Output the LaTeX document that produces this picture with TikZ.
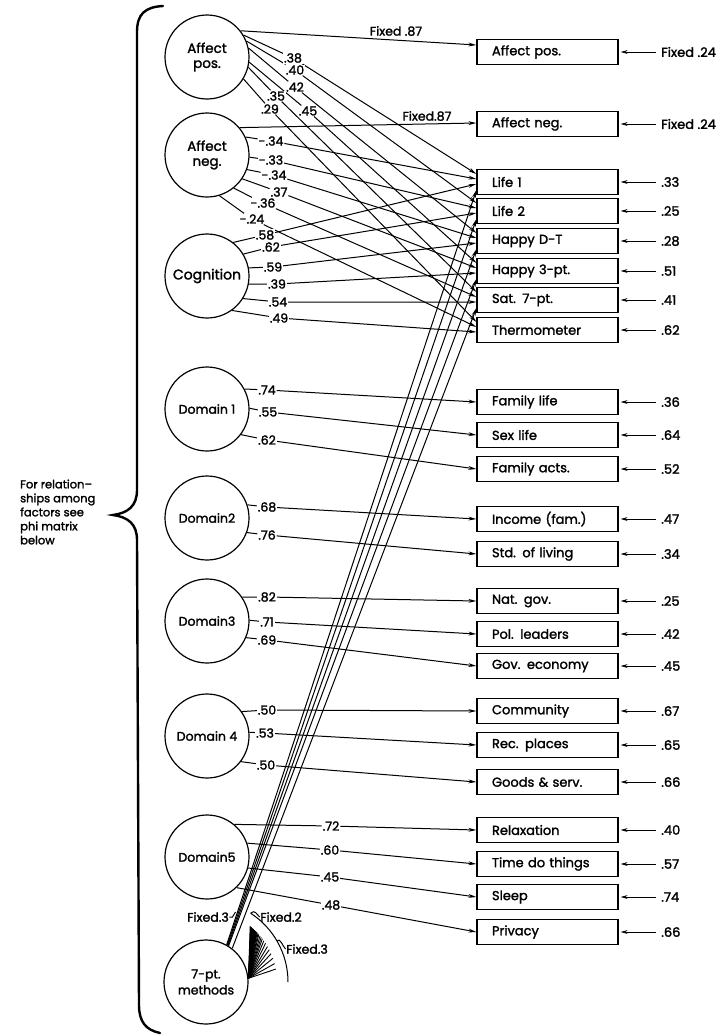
\documentclass[tikz,border=0pt]{standalone}
\usepackage{fontspec}
\setmainfont{Poppins}[FakeBold=1.7]
\usetikzlibrary{arrows.meta,calc}
\pgfdeclarelayer{paper}
\pgfdeclarelayer{wires}
\pgfsetlayers{paper,wires,main}
\tikzset{
  factor/.style={circle,draw,line width=1.2pt,minimum size=84pt,inner sep=0pt,align=center,font=\fontsize{13.5}{15}\selectfont},
  obs/.style={draw,line width=1.2pt,minimum height=25pt,text width=141pt,inner xsep=0pt,inner ysep=0pt,align=left,font=\fontsize{13}{14}\selectfont,execute at begin node={\hspace*{15pt}}},
  coef/.style={fill=white,inner sep=0.8pt,font=\fontsize{12.5}{12}\selectfont},
  errlab/.style={anchor=west,inner sep=0pt,font=\fontsize{13}{12}\selectfont},
  fixlab/.style={inner sep=0.5pt,font=\fontsize{12.5}{12}\selectfont},
  wire/.style={line width=1pt,-{Stealth[length=8pt,width=3.8pt]}},
  errw/.style={line width=1pt,-{Stealth[length=7pt,width=3.8pt]},shorten >=2pt,shorten <=5pt},
  bareline/.style={line width=1pt},
  fanline/.style={line width=0.9pt},
}
\begin{document}
\begin{tikzpicture}[x=1pt,y=-1pt]
\begin{pgfonlayer}{paper}
  \fill[white] (0,0) rectangle (720,1036);
\end{pgfonlayer}
\useasboundingbox (0,0) rectangle (720,1036);

% latent factors
\node[factor] (ap)  at (207,57)  {Affect\\pos.};
\node[factor] (an)  at (207,155) {Affect\\neg.};
\node[factor,font=\fontsize{14}{15}\selectfont] (cog) at (207,276) {Cognition};
\node[factor,font=\fontsize{12.5}{15}\selectfont] (d1)  at (207,409) {Domain 1};
\node[factor,font=\fontsize{12.5}{15}\selectfont] (d2)  at (207,518) {Domain2};
\node[factor,font=\fontsize{12.5}{15}\selectfont] (d3)  at (207,621) {Domain3};
\node[factor,font=\fontsize{12.5}{15}\selectfont] (d4)  at (207,736) {Domain 4};
\node[factor,font=\fontsize{12.5}{15}\selectfont] (d5)  at (207,857) {Domain5};
\node[factor,font=\fontsize{12.5}{16}\selectfont] (m7)  at (206,982) {7-pt.\\methods};

% measured variables with their residual arrows
\foreach \n/\y/\t/\e in {
  bap/52/Affect pos./Fixed .24, ban/124/Affect neg./Fixed .24,
  l1/182/Life 1/.33, l2/211/Life 2/.25, hdt/241/Happy D-T/.28,
  h3/271/Happy 3-pt./.51, s7/300/Sat. 7-pt./.41, th/330/Thermometer/.62,
  fl/402/Family life/.36, sl/435/Sex life/.64, fa/469/Family acts./.52,
  inc/519/Income (fam.)/.47, std/554/Std. of living/.34,
  ng/601/Nat. gov./.25, pl/634/Pol. leaders/.42, ge/666/Gov. economy/.45,
  com/711/Community/.67, rp/745/Rec. places/.65, gs/782/Goods \& serv./.66,
  rel/830/Relaxation/.40, tdt/864/Time do things/.57, slp/897/Sleep/.74,
  prv/932/Privacy/.66}{
  \node[obs] (\n) at (547.5,\y) {\t};
  \node[errlab] (e\n) at (661,\y) {\e};
  \draw[errw] (e\n.west) -- (\n.east);
}

% loadings
\node[fixlab] (f87a) at (396,31) {Fixed .87};
\node[fixlab] (f87b) at (427,116) {Fixed.87};

\node[coef] (c38) at (293,58)  {.38};
\node[coef] (c40) at (295,70)  {.40};
\node[coef] (c42) at (295,87)  {.42};
\node[coef] (c35) at (276,96)  {.35};
\node[coef] (c29) at (270,109) {.29};
\node[coef] (c45) at (308,111) {.45};

\node[coef] (n1) at (271,141) {-.34};
\node[coef] (n2) at (271,160) {-.33};
\node[coef] (n3) at (274,175) {-.34};
\node[coef] (n4) at (279,192) {.37};
\node[coef] (n5) at (263,203) {-.36};
\node[coef] (n6) at (252,219) {-.24};

\node[coef] (g1) at (265,235) {.58};
\node[coef] (g2) at (271,247) {.62};
\node[coef] (g3) at (273,267) {.59};
\node[coef] (g4) at (277,284) {.39};
\node[coef] (g5) at (278,302) {.54};
\node[coef] (g6) at (279,318) {.49};

\node[coef] (k74)  at (267,390) {.74};
\node[coef] (k55)  at (268,412) {.55};
\node[coef] (k62)  at (267,440) {.62};
\node[coef] (k68)  at (267,507) {.68};
\node[coef] (k76)  at (267,535) {.76};
\node[coef] (k82)  at (267,597) {.82};
\node[coef] (k71)  at (267,622) {.71};
\node[coef] (k69)  at (267,640) {.69};
\node[coef] (k50a) at (267,710) {.50};
\node[coef] (k53)  at (265,733) {.53};
\node[coef] (k50b) at (266,765) {.50};
\node[coef] (k72)  at (331,826) {.72};
\node[coef] (k60)  at (330,850) {.60};
\node[coef] (k45)  at (330,877) {.45};
\node[coef] (k48)  at (331,905) {.48};

\node[fixlab] (fx3l) at (208,917) {Fixed.3};
\node[fixlab] (fx2)  at (281,917) {Fixed.2};
\node[fixlab] (fx3r) at (307,949) {Fixed.3};

\coordinate (arcTop) at ($(m7.center)+(57:82pt)$);
\coordinate (arcMid) at ($(m7.center)+(30:82pt)$);

\begin{pgfonlayer}{wires}
  % affect factors to their single indicators
  \draw[wire] (ap.38) -- ($(bap.west)+(0,-7)$);
  \draw[wire] (an.40) -- ($(ban.west)+(0,-1)$);
  % positive affect
  \draw[wire] (ap.31)  -- (c38) -- ($(l1.west)+(0,-8)$);
  \draw[wire] (ap.22)  -- (c40) -- ($(l2.west)+(0,-8)$);
  \draw[wire] (ap.12)  -- (c42) -- ($(hdt.west)+(0,-8)$);
  \draw[wire] (ap.353) -- (c45) -- ($(h3.west)+(0,-8)$);
  \draw[wire] (ap.346) -- (c35) -- ($(s7.west)+(0,-8)$);
  \draw[wire] (ap.329) -- (c29) -- ($(th.west)+(0,-8)$);
  % negative affect
  \draw[wire] (an.25)  -- (n1) -- ($(l1.west)+(0,-3)$);
  \draw[wire] (an.357) -- (n2) -- ($(l2.west)+(0,-3)$);
  \draw[wire] (an.340) -- (n3) -- ($(hdt.west)+(0,-3)$);
  \draw[wire] (an.326) -- (n4) -- ($(h3.west)+(0,-3)$);
  \draw[wire] (an.309) -- (n5) -- ($(s7.west)+(0,-3)$);
  \draw[wire] (an.287) -- (n6) -- ($(th.west)+(0,-3)$);
  % cognition
  \draw[wire] (cog.52)  -- (g1) -- ($(l1.west)+(0,2)$);
  \draw[wire] (cog.31)  -- (g2) -- ($(l2.west)+(0,2)$);
  \draw[wire] (cog.11)  -- (g3) -- ($(hdt.west)+(0,2)$);
  \draw[wire] (cog.349) -- (g4) -- ($(h3.west)+(0,2)$);
  \draw[wire] (cog.328) -- (g5) -- ($(s7.west)+(0,2)$);
  \draw[wire] (cog.306) -- (g6) -- ($(th.west)+(0,2)$);
  % method factor to the global measures
  \draw[wire] (m7.61) -- ($(l1.west)+(0,8)$);
  \draw[wire] (m7.60) -- ($(l2.west)+(0,8)$);
  \draw[wire] (m7.59) -- ($(hdt.west)+(0,8)$);
  \draw[wire] (m7.58) -- ($(h3.west)+(0,8)$);
  \draw[wire] (m7.52) -- ($(s7.west)+(0,8)$);
  % domains
  \draw[wire] (d1.28)  -- (k74)  -- (fl.west);
  \draw[wire] (d1.1)   -- (k55)  -- (sl.west);
  \draw[wire] (d1.323) -- (k62)  -- (fa.west);
  \draw[wire] (d2.18)  -- (k68)  -- (inc.west);
  \draw[wire] (d2.340) -- (k76)  -- (std.west);
  \draw[wire] (d3.34)  -- (k82)  -- (ng.west);
  \draw[wire] (d3.1)   -- (k71)  -- (pl.west);
  \draw[wire] (d3.337) -- (k69)  -- (ge.west);
  \draw[wire] (d4.35)  -- (k50a) -- (com.west);
  \draw[wire] (d4.5)   -- (k53)  -- (rp.west);
  \draw[wire] (d4.323) -- (k50b) -- (gs.west);
  \draw[wire] (d5.50)  -- (k72)  -- (rel.west);
  \draw[wire] (d5.19)  -- (k60)  -- (tdt.west);
  \draw[wire] (d5.345) -- (k45)  -- (slp.west);
  \draw[wire] (d5.314) -- (k48)  -- (prv.west);
  % abbreviated fan of method loadings on the domain items
  \foreach \a in {51.5,51,50.5,50,49,48,47,46,45,44,43,42,40.5,39,37.5,35.5,33,30,27,23.5,19.5,15,10.5}
    \draw[fanline] (m7.5) -- ($(m7.center)+(\a:71pt)$);
  \fill (m7.5) -- ($(m7.center)+(51.5:71pt)$) -- ($(m7.center)+(44:71pt)$) -- cycle;
  \draw[bareline] (arcTop) arc[start angle=57,end angle=0,radius=82pt];
  % label hooks
  \draw[bareline] (fx3l.east) -- ++(3,0) -- ++(3,-5);
  \draw[bareline] (arcTop) .. controls ($(arcTop)+(4,-4)$) and ($(fx2.west)+(-3,-3)$) .. (fx2.west);
  \draw[bareline] (arcMid) .. controls ($(arcMid)+(3,-4)$) and ($(fx3r.west)+(-3,-3)$) .. (fx3r.west);
\end{pgfonlayer}

% brace grouping the factors
\draw[line width=2.4pt,line cap=round]
  (163,6) .. controls (145,7) and (137,14) .. (137,32) -- (137,490)
  .. controls (137,506) and (128,513) .. (113,515)
  .. controls (128,517) and (137,524) .. (137,540) -- (139,1005)
  .. controls (139,1022) and (146,1030) .. (160,1033);

\node[anchor=west,align=left,inner sep=0pt,font=\fontsize{11.5}{14}\selectfont] (note) at (20,512)
  {For relation–\\ships among\\factors see\\phi matrix\\below};
\end{tikzpicture}
\end{document}
